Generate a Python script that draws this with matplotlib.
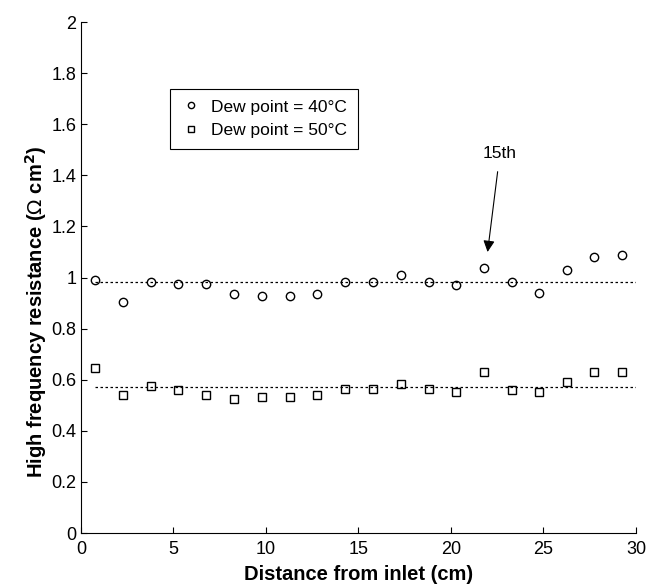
import numpy as np
import matplotlib
matplotlib.use('Agg')
import matplotlib.pyplot as plt
from matplotlib.ticker import FormatStrFormatter

plt.rcParams['font.family'] = ['Liberation Sans', 'DejaVu Sans']

# Data
distance = [0.76, 2.26, 3.76, 5.27, 6.77, 8.27, 9.77, 11.28, 12.78, 14.28,
            15.78, 17.28, 18.79, 20.29, 21.79, 23.29, 24.78, 26.27, 27.76, 29.25]
hfr_40 = [0.990, 0.903, 0.984, 0.976, 0.973, 0.937, 0.928, 0.928, 0.937, 0.984,
          0.982, 1.010, 0.984, 0.969, 1.039, 0.982, 0.940, 1.030, 1.080, 1.090]
hfr_50 = [0.644, 0.540, 0.575, 0.558, 0.540, 0.523, 0.531, 0.531, 0.542, 0.563,
          0.563, 0.584, 0.563, 0.552, 0.629, 0.558, 0.552, 0.592, 0.629, 0.629]
mean_40 = 0.982
mean_50 = 0.571
line_x = [0.76, 30]

fig = plt.figure(figsize=(6.46, 5.88), dpi=100)
ax = fig.add_axes([0.1254, 0.0935, 0.859, 0.869])

ax.plot(distance, hfr_40, 'o', mfc='none', mec='k', mew=1.0, ms=6,
        label='Dew point = 40°C')
ax.plot(distance, hfr_50, 's', mfc='none', mec='k', mew=1.0, ms=6,
        label='Dew point = 50°C')
ax.plot(line_x, [mean_40, mean_40], color='k', lw=0.9, ls=(0, (2, 2)))
ax.plot(line_x, [mean_50, mean_50], color='k', lw=0.9, ls=(0, (2, 2)))

ax.annotate('15th', xy=(21.98, 1.10), xytext=(22.65, 1.487),
            ha='center', va='center', fontsize=12.5,
            arrowprops=dict(arrowstyle='-|>', color='k', lw=0.8,
                            mutation_scale=17, shrinkA=6, shrinkB=0))

ax.set_xlim(0, 30)
ax.set_ylim(0, 2)
ax.set_xticks(np.arange(0, 31, 5))
ax.set_yticks(np.arange(0, 2.01, 0.2))
ax.yaxis.set_major_formatter(FormatStrFormatter('%g'))
ax.tick_params(direction='in', length=4, labelsize=13, width=0.8)
ax.tick_params(axis='x', pad=6)
for s in ['top', 'right']:
    ax.spines[s].set_visible(False)

ax.set_xlabel('Distance from inlet (cm)', fontsize=14.5, fontweight='bold', labelpad=5)
ax.set_ylabel('High frequency resistance ($\\Omega$ cm$^\\mathbf{2}$)',
              fontsize=14.5, fontweight='bold')
ax.yaxis.set_label_coords(-0.058, 0.433)

leg = ax.legend(loc='upper left', bbox_to_anchor=(0.16, 0.869), borderaxespad=0,
                fontsize=12.5, markerscale=0.75, fancybox=False, edgecolor='k',
                framealpha=1, handlelength=1.2, handletextpad=0.6,
                labelspacing=0.5, borderpad=0.6)
leg.get_frame().set_linewidth(0.8)

fig.savefig('out.png', dpi=100)
